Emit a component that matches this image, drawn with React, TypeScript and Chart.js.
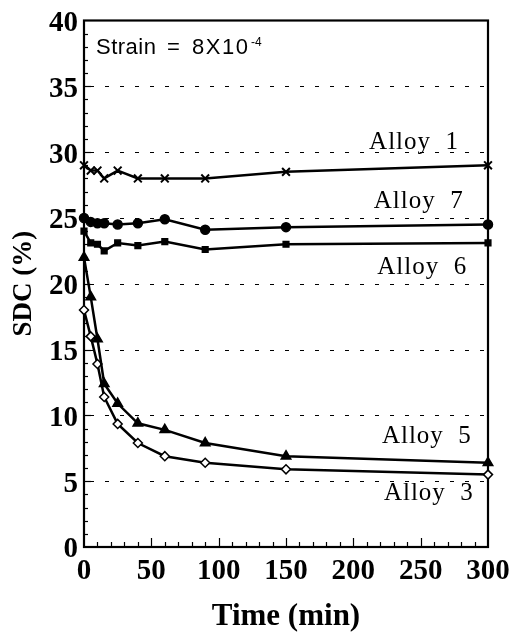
import React, { useEffect, useRef } from "react";
import { Chart, registerables } from "chart.js";

Chart.register(...registerables);

// ---- data ----
const times = [0, 5, 10, 15, 25, 40, 60, 90, 150, 300];
const alloy1 = [29.0, 28.6, 28.6, 28.0, 28.6, 28.0, 28.0, 28.0, 28.5, 29.0];
const alloy7 = [25.0, 24.7, 24.6, 24.6, 24.5, 24.6, 24.9, 24.1, 24.3, 24.5];
const alloy6 = [24.0, 23.1, 23.0, 22.5, 23.1, 22.9, 23.2, 22.6, 23.0, 23.1];
const alloy5 = [22.0, 19.0, 15.8, 12.4, 10.9, 9.4, 8.9, 7.9, 6.9, 6.4];
const alloy3 = [18.0, 16.0, 13.9, 11.4, 9.35, 7.9, 6.9, 6.4, 5.9, 5.5];

const seriesNames = ["Alloy 1", "Alloy 7", "Alloy 6", "Alloy 5", "Alloy 3"];
const seriesValues = [alloy1, alloy7, alloy6, alloy5, alloy3];

const xTickLabels = [0, 50, 100, 150, 200, 250, 300];
const yTickLabels = [0, 5, 10, 15, 20, 25, 30, 35, 40];

// label anchors (data coordinates: right edge time, baseline SDC)
const labelRightX = [278.5, 282, 284.5, 288, 289.5];
const labelBaseY = [30.2, 25.75, 20.75, 7.9, 3.55];

// marker styles
const pointStyles = ["crossRot", "circle", "rect", "triangle", "rectRot"];
const pointRadii = [5.5, 4.5, 4, 5.5, 4.5];
const pointFills = ["#000", "#000", "#000", "#000", "#fff"];

const SERIF = "'Liberation Serif', 'Times New Roman', serif";
const SANS = "'Liberation Sans', Arial, sans-serif";

const decorPlugin = {
  id: "decor",
  beforeDatasetsDraw(chart: any) {
    const { ctx, chartArea: a, scales } = chart;
    const x = scales.x;
    const y = scales.y;
    ctx.save();
    ctx.strokeStyle = "#000";
    // dashed horizontal grid
    ctx.lineWidth = 1;
    ctx.setLineDash([4, 11]);
    for (const v of yTickLabels) {
      if (v === 0 || v === 40) continue;
      const py = Math.round(y.getPixelForValue(v)) + 0.5;
      ctx.beginPath();
      ctx.moveTo(a.left + 6, py);
      ctx.lineTo(a.right, py);
      ctx.stroke();
    }
    ctx.setLineDash([]);
    // inside ticks
    ctx.lineWidth = 1.2;
    for (let v = 1; v < 40; v++) {
      const py = Math.round(y.getPixelForValue(v)) + 0.5;
      const len = v % 5 === 0 ? 7 : 4;
      ctx.beginPath();
      ctx.moveTo(a.left, py);
      ctx.lineTo(a.left + len, py);
      ctx.stroke();
    }
    for (let v = 10; v < 300; v += 10) {
      const px = Math.round(x.getPixelForValue(v)) + 0.5;
      const len = v % 50 === 0 ? 9 : 5;
      ctx.beginPath();
      ctx.moveTo(px, a.bottom);
      ctx.lineTo(px, a.bottom - len);
      ctx.stroke();
    }
    // frame
    ctx.lineWidth = 2.2;
    ctx.strokeRect(a.left, a.top, a.right - a.left, a.bottom - a.top);
    ctx.restore();
  },
  afterDatasetsDraw(chart: any) {
    const { ctx, chartArea: a, scales } = chart;
    const x = scales.x;
    const y = scales.y;
    ctx.save();
    ctx.fillStyle = "#000";
    // series labels
    ctx.font = `25px ${SERIF}`;
    (ctx as any).letterSpacing = "1px";
    ctx.textAlign = "right";
    ctx.textBaseline = "alphabetic";
    seriesNames.forEach((name, i) => {
      ctx.fillText(
        name.replace(" ", "  "),
        x.getPixelForValue(labelRightX[i]),
        y.getPixelForValue(labelBaseY[i])
      );
    });
    // strain annotation
    ctx.textAlign = "left";
    ctx.font = `22px ${SANS}`;
    (ctx as any).letterSpacing = "0.5px";
    const bx = a.left + 12;
    const by = a.top + 33;
    ctx.fillText("Strain", bx, by);
    ctx.fillText("=", bx + 71, by);
    (ctx as any).letterSpacing = "1.5px";
    ctx.fillText("8X10", bx + 96, by);
    (ctx as any).letterSpacing = "0px";
    ctx.font = `12px ${SANS}`;
    ctx.fillText("-4", bx + 155, by - 8);
    ctx.restore();
  },
};

export default function App() {
  const ref = useRef<HTMLCanvasElement>(null);
  useEffect(() => {
    const canvas = ref.current!;
    const chart = new Chart(canvas, {
      type: "line",
      data: {
        datasets: seriesNames.map((name, i) => ({
          label: name,
          data: times.map((t, j) => ({ x: t, y: seriesValues[i][j] })),
          borderColor: "#000",
          backgroundColor: pointFills[i],
          pointBackgroundColor: pointFills[i],
          pointBorderColor: "#000",
          pointStyle: pointStyles[i] as any,
          pointRadius: pointRadii[i],
          pointBorderWidth: i === 0 ? 2 : 1.5,
          borderWidth: 2.5,
          tension: 0,
          fill: false,
          clip: false as any,
        })),
      },
      options: {
        animation: false,
        responsive: false,
        devicePixelRatio: 1,
        layout: { padding: { left: 0, right: 34, top: 16, bottom: 0 } },
        plugins: { legend: { display: false }, tooltip: { enabled: false } },
        scales: {
          x: {
            type: "linear",
            min: 0,
            max: 300,
            afterBuildTicks: (s: any) => {
              s.ticks = xTickLabels.map((v) => ({ value: v }));
            },
            afterFit: (s: any) => {
              s.height = 87;
            },
            grid: { display: false, drawTicks: false },
            border: { display: false },
            ticks: {
              padding: 10,
              color: "#000",
              maxRotation: 0,
              font: { family: SERIF, size: 29, weight: "bold", lineHeight: 1 },
            },
            title: {
              display: true,
              text: "Time (min)",
              color: "#000",
              font: { family: SERIF, size: 31, weight: "bold", lineHeight: 1 },
              padding: { top: 0, bottom: 2 },
            },
          },
          y: {
            type: "linear",
            min: 0,
            max: 40,
            afterBuildTicks: (s: any) => {
              s.ticks = yTickLabels.map((v) => ({ value: v }));
            },
            afterFit: (s: any) => {
              s.width = 84;
            },
            grid: { display: false, drawTicks: false },
            border: { display: false },
            ticks: {
              padding: 6,
              labelOffset: 3,
              color: "#000",
              font: { family: SERIF, size: 29, weight: "bold", lineHeight: 1 },
            },
            title: {
              display: true,
              text: "SDC (%)",
              color: "#000",
              font: { family: SERIF, size: 27, weight: "bold", lineHeight: 1 },
              padding: { top: 11, bottom: 0 },
            },
          },
        },
      },
      plugins: [decorPlugin],
    });
    return () => chart.destroy();
  }, []);
  return (
    <div style={{ position: "absolute", left: 0, top: 0, width: 522, height: 634, background: "#fff" }}>
      <canvas ref={ref} width={522} height={634} style={{ display: "block", width: 522, height: 634 }} />
    </div>
  );
}
